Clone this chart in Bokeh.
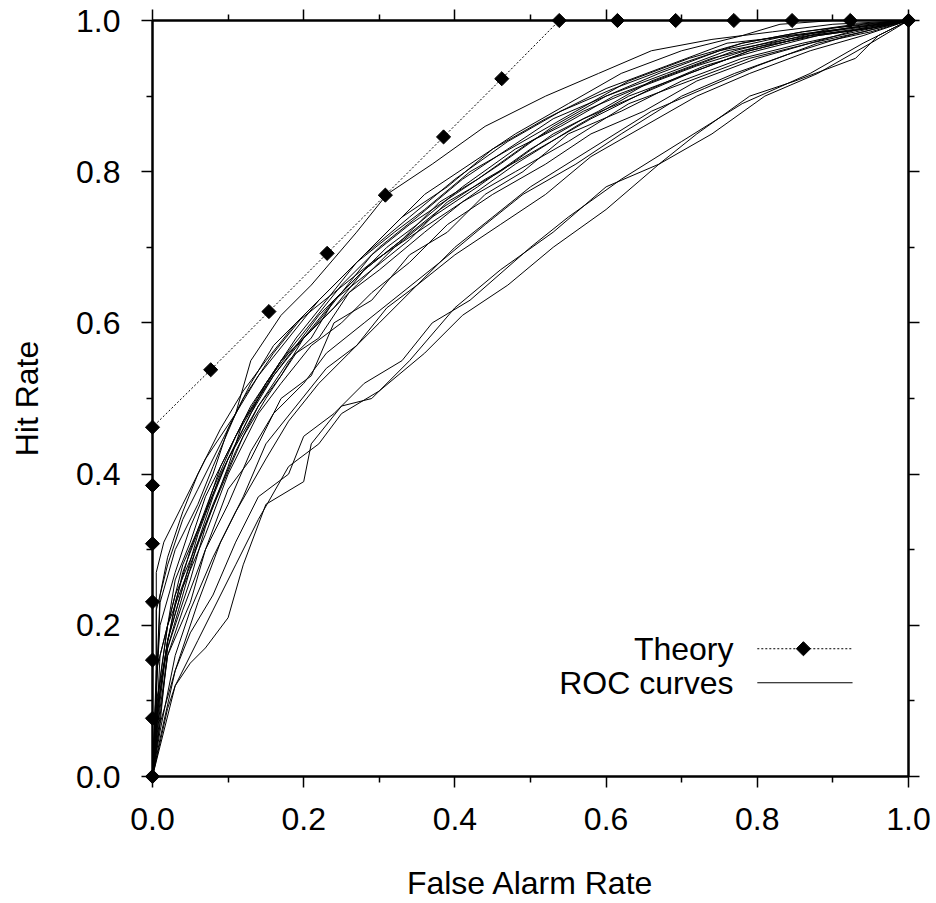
from bokeh.plotting import figure
from bokeh.models import Range1d, LinearAxis, FixedTicker, Label
from bokeh.embed import file_html
from bokeh.resources import INLINE

# ---------------- data ----------------
theory_x = [0, 0, 0, 0, 0, 0, 0, 0.077, 0.154, 0.231, 0.308, 0.385, 0.462,
            0.538, 0.615, 0.692, 0.769, 0.846, 0.923, 1.0]
theory_y = [0, 0.077, 0.154, 0.231, 0.308, 0.385, 0.462, 0.538, 0.615, 0.692,
            0.769, 0.846, 0.923, 1.0, 1.0, 1.0, 1.0, 1.0, 1.0, 1.0]

roc01_x = [0, 0.005, 0.005, 0.015, 0.04, 0.07, 0.11, 0.13, 0.17, 0.21, 0.27, 0.31, 0.37, 0.44, 0.52, 0.59, 0.66, 0.74, 0.82, 0.9, 1]
roc01_y = [0, 0.1, 0.27, 0.31, 0.36, 0.42, 0.48, 0.55, 0.61, 0.65, 0.72, 0.77, 0.81, 0.86, 0.9, 0.93, 0.96, 0.975, 0.985, 0.995, 1]
roc02_x = [0, 0.02, 0.03, 0.05, 0.07, 0.1, 0.12, 0.15, 0.2, 0.21, 0.25, 0.29, 0.34, 0.4, 0.46, 0.53, 0.6, 0.67, 0.72, 0.79, 0.85, 0.93, 0.96, 1]
roc02_y = [0, 0.09, 0.12, 0.15, 0.17, 0.21, 0.28, 0.36, 0.39, 0.44, 0.49, 0.5, 0.55, 0.62, 0.67, 0.72, 0.78, 0.81, 0.85, 0.9, 0.92, 0.95, 0.98, 1]
roc03_x = [0, 0.01, 0.03, 0.05, 0.08, 0.11, 0.14, 0.18, 0.2, 0.24, 0.28, 0.33, 0.37, 0.42, 0.5, 0.55, 0.62, 0.7, 0.78, 0.87, 0.94, 1]
roc03_y = [0, 0.07, 0.14, 0.19, 0.24, 0.31, 0.37, 0.4, 0.45, 0.48, 0.52, 0.55, 0.6, 0.63, 0.7, 0.74, 0.79, 0.84, 0.89, 0.93, 0.97, 1]
roc04_x = [0, 0.01, 0.02, 0.05, 0.07, 0.1, 0.13, 0.16, 0.2, 0.23, 0.28, 0.33, 0.38, 0.44, 0.49, 0.56, 0.62, 0.7, 0.77, 0.84, 0.92, 1]
roc04_y = [0, 0.08, 0.16, 0.23, 0.3, 0.36, 0.43, 0.48, 0.52, 0.56, 0.6, 0.64, 0.68, 0.73, 0.77, 0.81, 0.85, 0.9, 0.93, 0.955, 0.98, 1]
roc05_x = [0, 0.005, 0.02, 0.04, 0.06, 0.09, 0.12, 0.15, 0.19, 0.22, 0.26, 0.3, 0.36, 0.41, 0.48, 0.55, 0.63, 0.71, 0.79, 0.87, 0.94, 1]
roc05_y = [0, 0.1, 0.17, 0.24, 0.31, 0.38, 0.45, 0.5, 0.56, 0.58, 0.64, 0.67, 0.72, 0.76, 0.8, 0.84, 0.89, 0.92, 0.95, 0.97, 0.985, 1]
roc06_x = [0, 0.005, 0.01, 0.03, 0.06, 0.08, 0.1, 0.14, 0.18, 0.21, 0.24, 0.29, 0.34, 0.39, 0.46, 0.53, 0.59, 0.66, 0.74, 0.82, 0.9, 1]
roc06_y = [0, 0.06, 0.16, 0.24, 0.31, 0.37, 0.42, 0.49, 0.55, 0.58, 0.63, 0.67, 0.71, 0.76, 0.8, 0.85, 0.88, 0.92, 0.95, 0.97, 0.99, 1]
roc07_x = [0, 0.01, 0.02, 0.04, 0.07, 0.09, 0.12, 0.15, 0.19, 0.23, 0.27, 0.32, 0.36, 0.42, 0.49, 0.56, 0.63, 0.71, 0.78, 0.86, 0.93, 1]
roc07_y = [0, 0.13, 0.2, 0.28, 0.35, 0.41, 0.47, 0.52, 0.58, 0.63, 0.68, 0.72, 0.75, 0.8, 0.84, 0.88, 0.92, 0.95, 0.97, 0.985, 0.995, 1]
roc08_x = [0, 0.005, 0.02, 0.05, 0.08, 0.11, 0.14, 0.17, 0.2, 0.24, 0.28, 0.33, 0.38, 0.43, 0.5, 0.57, 0.64, 0.72, 0.8, 0.88, 0.95, 1]
roc08_y = [0, 0.09, 0.2, 0.28, 0.36, 0.43, 0.49, 0.53, 0.58, 0.62, 0.67, 0.71, 0.76, 0.79, 0.84, 0.88, 0.91, 0.94, 0.965, 0.98, 0.99, 1]
roc09_x = [0, 0.01, 0.03, 0.06, 0.09, 0.12, 0.15, 0.19, 0.23, 0.27, 0.31, 0.35, 0.4, 0.45, 0.5, 0.58, 0.66, 0.73, 0.8, 0.88, 0.95, 1]
roc09_y = [0, 0.05, 0.14, 0.23, 0.31, 0.37, 0.44, 0.49, 0.54, 0.57, 0.62, 0.65, 0.7, 0.74, 0.78, 0.83, 0.88, 0.91, 0.94, 0.97, 0.985, 1]
roc10_x = [0, 0.005, 0.01, 0.03, 0.05, 0.08, 0.1, 0.13, 0.16, 0.2, 0.25, 0.29, 0.33, 0.39, 0.45, 0.52, 0.6, 0.68, 0.76, 0.85, 0.93, 1]
roc10_y = [0, 0.12, 0.2, 0.27, 0.33, 0.4, 0.46, 0.52, 0.57, 0.61, 0.66, 0.7, 0.74, 0.78, 0.83, 0.87, 0.91, 0.94, 0.97, 0.98, 0.99, 1]
roc11_x = [0, 0.005, 0.02, 0.04, 0.07, 0.1, 0.13, 0.16, 0.19, 0.22, 0.27, 0.31, 0.35, 0.41, 0.48, 0.54, 0.61, 0.69, 0.77, 0.85, 0.92, 1]
roc11_y = [0, 0.08, 0.18, 0.27, 0.35, 0.42, 0.48, 0.53, 0.57, 0.61, 0.66, 0.7, 0.73, 0.78, 0.83, 0.86, 0.9, 0.93, 0.96, 0.98, 0.99, 1]
roc12_x = [0, 0.005, 0.005, 0.02, 0.04, 0.06, 0.09, 0.12, 0.16, 0.2, 0.23, 0.28, 0.34, 0.4, 0.47, 0.54, 0.61, 0.69, 0.78, 0.86, 0.94, 1]
roc12_y = [0, 0.05, 0.22, 0.28, 0.34, 0.38, 0.44, 0.5, 0.56, 0.61, 0.64, 0.69, 0.74, 0.79, 0.84, 0.88, 0.91, 0.94, 0.97, 0.985, 0.995, 1]
roc13_x = [0, 0.01, 0.03, 0.05, 0.08, 0.11, 0.15, 0.18, 0.22, 0.26, 0.3, 0.35, 0.4, 0.46, 0.52, 0.58, 0.65, 0.72, 0.79, 0.87, 0.94, 1]
roc13_y = [0, 0.06, 0.16, 0.22, 0.29, 0.35, 0.42, 0.47, 0.52, 0.56, 0.6, 0.65, 0.69, 0.73, 0.77, 0.82, 0.86, 0.9, 0.93, 0.96, 0.98, 1]
roc14_x = [0, 0.005, 0.015, 0.03, 0.05, 0.08, 0.11, 0.14, 0.17, 0.21, 0.25, 0.3, 0.35, 0.41, 0.47, 0.53, 0.6, 0.68, 0.76, 0.84, 0.92, 1]
roc14_y = [0, 0.07, 0.15, 0.23, 0.3, 0.38, 0.45, 0.5, 0.55, 0.6, 0.65, 0.7, 0.74, 0.79, 0.83, 0.87, 0.9, 0.93, 0.96, 0.975, 0.99, 1]
roc15_x = [0, 0.01, 0.02, 0.04, 0.07, 0.1, 0.13, 0.17, 0.21, 0.24, 0.29, 0.34, 0.39, 0.44, 0.49, 0.55, 0.62, 0.7, 0.78, 0.86, 0.93, 1]
roc15_y = [0, 0.09, 0.16, 0.22, 0.3, 0.38, 0.42, 0.5, 0.53, 0.6, 0.63, 0.69, 0.72, 0.77, 0.8, 0.85, 0.88, 0.92, 0.95, 0.97, 0.985, 1]
roc16_x = [0, 0.005, 0.01, 0.03, 0.06, 0.08, 0.11, 0.14, 0.18, 0.22, 0.26, 0.31, 0.36, 0.42, 0.48, 0.55, 0.62, 0.7, 0.78, 0.83, 0.9, 1]
roc16_y = [0, 0.1, 0.23, 0.3, 0.36, 0.41, 0.48, 0.53, 0.58, 0.63, 0.67, 0.72, 0.77, 0.81, 0.85, 0.89, 0.93, 0.96, 0.98, 0.995, 1.0, 1]
roc17_x = [0, 0.01, 0.02, 0.04, 0.06, 0.09, 0.12, 0.15, 0.18, 0.22, 0.27, 0.32, 0.37, 0.43, 0.5, 0.57, 0.64, 0.71, 0.79, 0.87, 0.95, 1]
roc17_y = [0, 0.11, 0.18, 0.25, 0.32, 0.4, 0.46, 0.52, 0.56, 0.6, 0.65, 0.7, 0.74, 0.78, 0.83, 0.87, 0.9, 0.93, 0.96, 0.98, 0.99, 1]
roc18_x = [0, 0.01, 0.03, 0.06, 0.08, 0.11, 0.14, 0.18, 0.22, 0.25, 0.3, 0.36, 0.41, 0.47, 0.53, 0.6, 0.67, 0.74, 0.81, 0.88, 0.95, 1]
roc18_y = [0, 0.04, 0.12, 0.18, 0.22, 0.28, 0.34, 0.41, 0.44, 0.48, 0.51, 0.56, 0.61, 0.65, 0.7, 0.75, 0.81, 0.85, 0.9, 0.93, 0.97, 1]
roc19_x = [0, 0.005, 0.02, 0.03, 0.05, 0.07, 0.1, 0.13, 0.17, 0.21, 0.25, 0.29, 0.34, 0.4, 0.46, 0.53, 0.6, 0.67, 0.75, 0.84, 0.92, 1]
roc19_y = [0, 0.14, 0.2, 0.26, 0.31, 0.37, 0.43, 0.49, 0.55, 0.59, 0.64, 0.69, 0.73, 0.77, 0.81, 0.86, 0.9, 0.93, 0.96, 0.98, 0.99, 1]
roc20_x = [0, 0.01, 0.02, 0.05, 0.07, 0.1, 0.12, 0.16, 0.2, 0.24, 0.28, 0.33, 0.38, 0.44, 0.51, 0.58, 0.66, 0.73, 0.8, 0.88, 0.95, 1]
roc20_y = [0, 0.07, 0.17, 0.26, 0.33, 0.41, 0.47, 0.53, 0.58, 0.63, 0.67, 0.71, 0.75, 0.79, 0.83, 0.87, 0.91, 0.94, 0.96, 0.98, 0.99, 1]
roc21_x = [0, 0.01, 0.02, 0.04, 0.07, 0.1, 0.14, 0.17, 0.21, 0.25, 0.29, 0.34, 0.39, 0.45, 0.52, 0.58, 0.65, 0.72, 0.8, 0.87, 0.94, 1]
roc21_y = [0, 0.1, 0.18, 0.25, 0.32, 0.4, 0.48, 0.52, 0.57, 0.6, 0.64, 0.68, 0.73, 0.77, 0.81, 0.85, 0.88, 0.92, 0.95, 0.97, 0.99, 1]
roc22_x = [0, 0.005, 0.01, 0.02, 0.04, 0.06, 0.09, 0.12, 0.15, 0.19, 0.24, 0.29, 0.35, 0.41, 0.48, 0.56, 0.63, 0.71, 0.79, 0.87, 0.94, 1]
roc22_y = [0, 0.12, 0.24, 0.29, 0.35, 0.4, 0.46, 0.51, 0.55, 0.6, 0.64, 0.68, 0.72, 0.76, 0.81, 0.86, 0.9, 0.93, 0.96, 0.98, 0.99, 1]

roc_curves = [
    (roc01_x, roc01_y), (roc02_x, roc02_y), (roc03_x, roc03_y), (roc04_x, roc04_y),
    (roc05_x, roc05_y), (roc06_x, roc06_y), (roc07_x, roc07_y), (roc08_x, roc08_y),
    (roc09_x, roc09_y), (roc10_x, roc10_y), (roc11_x, roc11_y), (roc12_x, roc12_y),
    (roc13_x, roc13_y), (roc14_x, roc14_y), (roc15_x, roc15_y), (roc16_x, roc16_y),
    (roc17_x, roc17_y), (roc18_x, roc18_y), (roc19_x, roc19_y), (roc20_x, roc20_y),
    (roc21_x, roc21_y), (roc22_x, roc22_y),
]

tick_values = [0.0, 0.2, 0.4, 0.6, 0.8, 1.0]
minor_values = [0.1, 0.3, 0.5, 0.7, 0.9]
tick_labels = ["0.0", "0.2", "0.4", "0.6", "0.8", "1.0"]
legend_labels = ["Theory", "ROC curves"]

FONT = "Liberation Sans"

# ---------------- figure ----------------
p = figure(width=936, height=903, output_backend="svg", toolbar_location=None,
           x_range=Range1d(0, 1), y_range=Range1d(0, 1),
           x_axis_location=None, y_axis_location=None,
           min_border_left=152, min_border_right=28,
           min_border_top=20, min_border_bottom=127)
p.grid.visible = False
p.background_fill_color = "white"
p.border_fill_color = "white"
p.outline_line_color = "black"
p.outline_line_width = 2

ticker = FixedTicker(ticks=tick_values, minor_ticks=minor_values)
overrides = {v: s for v, s in zip(tick_values, tick_labels)}
blank = {v: "" for v in tick_values}


def style_axis(ax, labelled):
    ax.ticker = ticker
    ax.axis_line_width = 2
    ax.axis_line_color = "black"
    ax.major_tick_in = 0
    ax.major_tick_out = 11
    ax.minor_tick_in = 0
    ax.minor_tick_out = 6
    ax.major_tick_line_width = 1.5
    ax.minor_tick_line_width = 1.5
    ax.major_label_text_font = FONT
    ax.major_label_text_font_size = "32px"
    ax.major_label_text_color = "black"
    ax.axis_label_text_font = FONT
    ax.axis_label_text_font_size = "32px"
    ax.axis_label_text_font_style = "normal"
    ax.axis_label_text_color = "black"
    ax.major_label_overrides = overrides if labelled else blank


xb = LinearAxis(axis_label="False Alarm Rate")
style_axis(xb, True)
xb.major_label_standoff = 20
xb.axis_label_standoff = 32
p.add_layout(xb, "below")

yl = LinearAxis(axis_label="Hit Rate")
style_axis(yl, True)
yl.major_label_standoff = 21
yl.axis_label_standoff = 28
p.add_layout(yl, "left")

xt = LinearAxis()
style_axis(xt, False)
xt.major_label_standoff = 0
p.add_layout(xt, "above")

yr = LinearAxis()
style_axis(yr, False)
yr.major_label_standoff = 0
p.add_layout(yr, "right")

for cx, cy in roc_curves:
    p.line(cx, cy, line_color="black", line_width=1)

p.line(theory_x, theory_y, line_color="black", line_width=1, line_dash="2 2")
p.scatter(theory_x, theory_y, marker="square", angle=0.785398, size=10,
          fill_color="black", line_color="black", level="overlay")

# ---------------- legend (drawn by hand: labels left of samples) ----------------
leg_text_x = 0.7685
leg_x0, leg_x1, leg_xm = 0.800, 0.926, 0.861
leg_y = [0.169, 0.124]
p.line([leg_x0, leg_x1], [leg_y[0], leg_y[0]], line_color="black", line_width=1, line_dash="2 2")
p.scatter([leg_xm], [leg_y[0]], marker="square", angle=0.785398, size=10,
          fill_color="black", line_color="black")
p.line([leg_x0, leg_x1], [leg_y[1], leg_y[1]], line_color="black", line_width=1)
for lab, ly in zip(legend_labels, leg_y):
    p.add_layout(Label(x=leg_text_x, y=ly, text=lab, text_align="right",
                       text_baseline="middle", text_font=FONT,
                       text_font_size="32px", text_color="black"))

open("out.html", "w").write(file_html(p, INLINE))
